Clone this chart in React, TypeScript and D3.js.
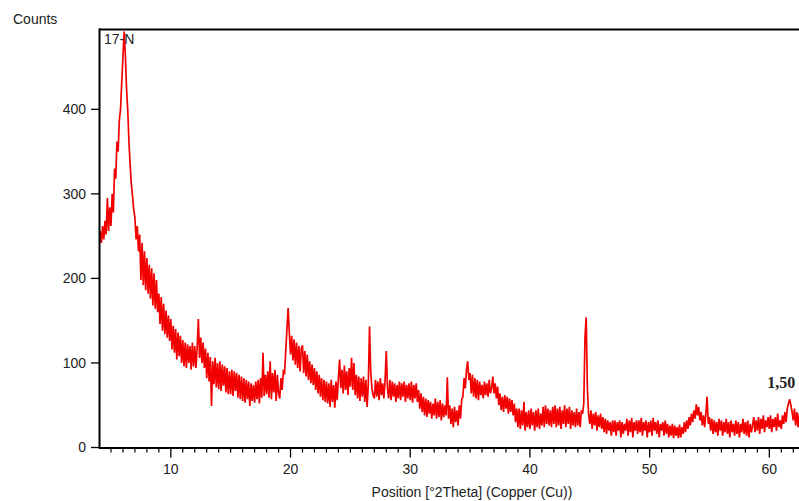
import React from 'react';
import * as d3 from 'd3';

// XRD scan: start angle and step (°2Theta)
const START = 4.0;
const STEP = 0.1;

// Counts, 0.1° step, one row per degree (4.0 .. 62.6)
const COUNTS: number[] = [
  238, 256, 242, 262, 246, 268, 252, 295, 256, 284, // 4
  262, 300, 278, 330, 318, 362, 350, 388, 400, 432, // 5
  462, 492, 465, 425, 400, 362, 335, 312, 298, 282, // 6
  272, 246, 262, 232, 252, 198, 242, 192, 232, 186, // 7
  224, 182, 216, 176, 212, 168, 206, 164, 198, 160, // 8
  182, 146, 178, 138, 170, 134, 162, 130, 156, 126, // 9
  152, 116, 144, 112, 140, 104, 136, 108, 132, 100, // 10
  127, 96, 124, 94, 122, 100, 120, 92, 124, 96, // 11
  120, 94, 118, 152, 106, 130, 100, 124, 94, 117, // 12
  82, 112, 78, 107, 49, 102, 75, 106, 71, 100, // 13
  69, 102, 67, 98, 73, 96, 65, 94, 63, 90, // 14
  63, 92, 61, 90, 67, 88, 59, 86, 57, 84, // 15
  55, 82, 53, 80, 57, 78, 49, 76, 55, 74, // 16
  53, 78, 57, 80, 52, 82, 59, 112, 61, 86, // 17
  63, 90, 59, 102, 57, 88, 65, 92, 55, 86, // 18
  64, 58, 82, 68, 90, 88, 114, 140, 165, 136, // 19
  110, 132, 103, 128, 98, 124, 94, 120, 90, 117, // 20
  121, 88, 114, 84, 110, 80, 102, 76, 98, 74, // 21
  94, 68, 90, 64, 86, 60, 82, 56, 80, 54, // 22
  78, 52, 76, 48, 80, 54, 74, 47, 78, 56, // 23
  82, 104, 70, 92, 64, 97, 68, 90, 62, 94, // 24
  72, 106, 68, 100, 62, 86, 58, 84, 55, 82, // 25
  60, 84, 54, 80, 48, 76, 143, 90, 70, 62, // 26
  58, 80, 60, 78, 56, 82, 62, 76, 58, 80, // 27
  114, 70, 58, 80, 56, 78, 60, 76, 54, 74, // 28
  58, 78, 56, 76, 60, 78, 54, 74, 58, 76, // 29
  56, 78, 53, 74, 58, 76, 54, 68, 46, 64, // 30
  42, 60, 38, 58, 36, 56, 40, 54, 34, 52, // 31
  38, 58, 34, 54, 36, 56, 32, 52, 36, 50, // 32
  38, 83, 34, 50, 28, 46, 24, 48, 30, 44, // 33
  26, 50, 34, 57, 60, 82, 70, 92, 102, 80, // 34
  88, 64, 86, 60, 82, 58, 80, 56, 78, 62, // 35
  74, 58, 78, 62, 76, 60, 80, 64, 70, 84, // 36
  64, 76, 58, 72, 50, 64, 44, 60, 42, 62, // 37
  46, 60, 40, 58, 42, 56, 38, 52, 30, 46, // 38
  24, 46, 22, 44, 26, 54, 20, 42, 24, 44, // 39
  22, 46, 26, 42, 20, 44, 24, 46, 22, 40, // 40
  26, 48, 24, 50, 28, 46, 26, 44, 24, 48, // 41
  28, 50, 24, 46, 26, 48, 22, 44, 28, 50, // 42
  24, 46, 28, 48, 22, 44, 26, 42, 24, 46, // 43
  26, 42, 24, 44, 40, 52, 130, 154, 70, 40, // 44
  28, 44, 22, 40, 26, 42, 20, 38, 24, 40, // 45
  22, 36, 18, 34, 16, 32, 20, 30, 14, 32, // 46
  18, 32, 14, 30, 20, 32, 12, 30, 16, 28, // 47
  20, 34, 14, 32, 18, 35, 12, 30, 20, 32, // 48
  16, 32, 18, 35, 14, 30, 20, 32, 12, 30, // 49
  18, 32, 14, 35, 20, 30, 16, 32, 12, 28, // 50
  20, 30, 14, 32, 16, 28, 12, 26, 14, 28, // 51
  11, 26, 14, 24, 11, 27, 12, 24, 16, 30, // 52
  18, 32, 22, 36, 26, 40, 30, 44, 34, 51, // 53
  38, 48, 32, 42, 26, 38, 24, 40, 60, 28, // 54
  36, 20, 34, 16, 32, 18, 30, 14, 34, 20, // 55
  32, 14, 30, 18, 34, 16, 30, 12, 32, 18, // 56
  28, 14, 32, 16, 30, 12, 28, 18, 34, 16, // 57
  30, 14, 32, 12, 28, 18, 26, 36, 18, 32, // 58
  20, 36, 16, 34, 22, 38, 18, 32, 24, 36, // 59
  22, 38, 18, 34, 24, 36, 20, 40, 24, 32, // 60
  22, 38, 28, 42, 30, 46, 52, 57, 50, 42, // 61
  32, 46, 26, 42, 24, 40, 28, // 62
];

const X_TICKS = [10, 20, 30, 40, 50, 60];
const Y_TICKS = [0, 100, 200, 300, 400];
const X_MINOR = [5, 6, 7, 8, 9, 11, 12, 13, 14, 15, 16, 17, 18, 19, 21, 22, 23, 24, 25, 26, 27, 28, 29,
  31, 32, 33, 34, 35, 36, 37, 38, 39, 41, 42, 43, 44, 45, 46, 47, 48, 49, 51, 52, 53, 54, 55, 56, 57, 58, 59, 61, 62, 63];

const SAMPLE_LABEL = '17-N';
const PEAK_LABEL = { x: 60.0, y: 70, text: '1,50' };

export default function App() {
  const W = 799;
  const H = 501;
  const x = d3.scaleLinear().domain([4, 64]).range([99, 817.2]);
  const y = d3.scaleLinear().domain([0, 495]).range([447.5, 29]);
  const line = d3
    .line<number>()
    .x((_, i) => x(START + i * STEP))
    .y((d) => y(d));
  const sans = '"Liberation Sans", Arial, sans-serif';
  const x0 = x(4);
  const yb = y(0);
  const yt = y(495);

  return (
    <svg
      width={W}
      height={H}
      style={{ position: 'absolute', left: 0, top: 0, display: 'block', background: '#fff' }}
    >
      <defs>
        <clipPath id="plot">
          <rect x={x0} y={yt} width={W - x0} height={yb - yt} />
        </clipPath>
      </defs>
      <rect x={0} y={0} width={W} height={H} fill="#fff" />
      <path
        d={line(COUNTS) || ''}
        fill="none"
        stroke="#f20000"
        strokeWidth={1.7}
        strokeLinejoin="miter"
        clipPath="url(#plot)"
      />

      {/* frame */}
      <line x1={x0} x2={W} y1={yt + 0.5} y2={yt + 0.5} stroke="#000" strokeWidth={2} />
      <line x1={x0 + 0.5} x2={x0 + 0.5} y1={yt - 0.5} y2={yb + 1} stroke="#000" strokeWidth={2} />
      <line x1={x0} x2={W} y1={yb + 0.5} y2={yb + 0.5} stroke="#000" strokeWidth={2} />

      {/* y axis */}
      {Y_TICKS.map((t) => (
        <g key={'y' + t}>
          <line x1={x0 - 8} x2={x0} y1={y(t)} y2={y(t)} stroke="#000" strokeWidth={1.3} />
          <text x={x0 - 13} y={y(t)} dy="0.35em" textAnchor="end" fontFamily={sans} fontSize={14} fill="#222">
            {t}
          </text>
        </g>
      ))}

      {/* x axis */}
      {X_MINOR.map((t) => (
        <line key={'m' + t} x1={x(t)} x2={x(t)} y1={yb} y2={yb + 5} stroke="#000" strokeWidth={1.2} />
      ))}
      {X_TICKS.map((t) => (
        <g key={'x' + t}>
          <line x1={x(t)} x2={x(t)} y1={yb} y2={yb + 10} stroke="#000" strokeWidth={1.3} />
          <text x={x(t)} y={474} textAnchor="middle" fontFamily={sans} fontSize={14} fill="#222">
            {t}
          </text>
        </g>
      ))}

      <text x={13} y={24} fontFamily={sans} fontSize={14} fill="#222">
        Counts
      </text>
      <text x={472} y={497} textAnchor="middle" fontFamily={sans} fontSize={14} fill="#222">
        Position [°2Theta] (Copper (Cu))
      </text>
      <text x={x0 + 5} y={44} fontFamily={sans} fontSize={14} fill="#222">
        {SAMPLE_LABEL}
      </text>
      <text
        x={x(PEAK_LABEL.x) - 2}
        y={y(PEAK_LABEL.y)}
        fontFamily='"Liberation Serif", "Times New Roman", serif'
        fontWeight="bold"
        fontSize={16}
        fill="#222"
      >
        {PEAK_LABEL.text}
      </text>
    </svg>
  );
}
